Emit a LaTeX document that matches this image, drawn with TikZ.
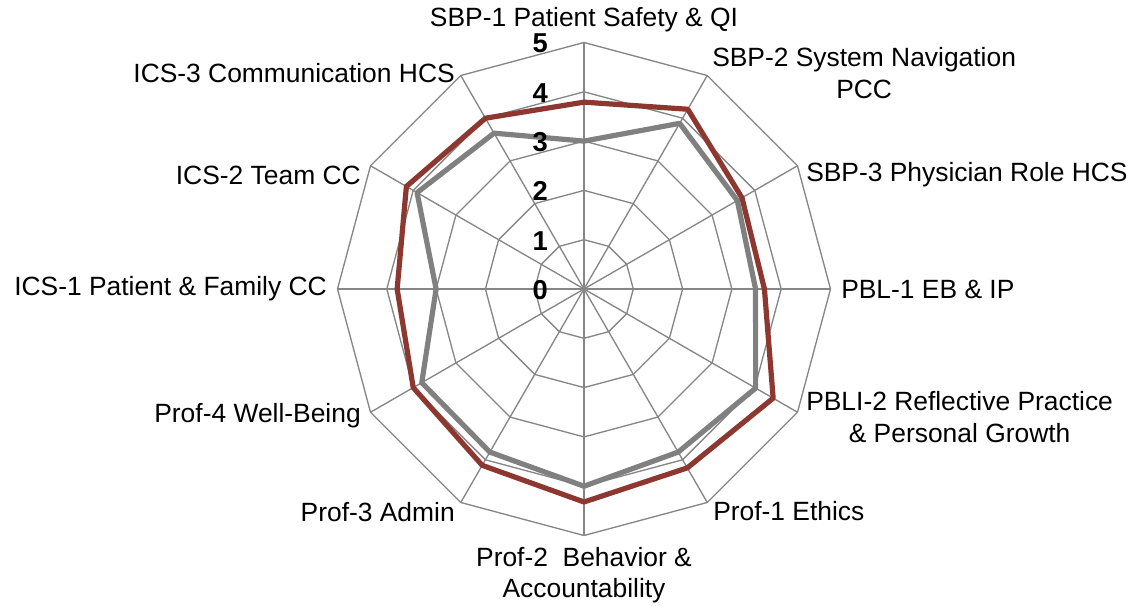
\documentclass[tikz,border=0pt]{standalone}
\usepackage{fontspec}
\setmainfont{Liberation Sans}

\begin{document}
\begin{tikzpicture}[x=0.75pt,y=0.75pt,yscale=-1,xscale=1,
  grid/.style={color={rgb, 255:red, 134; green, 134; blue, 134}, line width=1pt},
  redser/.style={color={rgb, 255:red, 140; green, 56; blue, 48}, line width=3.9pt, line join=round},
  grayser/.style={color={rgb, 255:red, 128; green, 128; blue, 128}, line width=3.9pt, line join=round},
  ticklab/.style={inner sep=0pt, font=\fontsize{20.5}{24}\selectfont\bfseries},
  catlab/.style={inner sep=0.75pt, align=center, font=\fontsize{19.8}{23.5}\selectfont}]
\useasboundingbox (0,0) rectangle (1134,606);
\def\unit{49.3}

\begin{scope}[shift={(584,289)}]
%Shape: Radar grid
\coordinate (o) at (0,0);
\foreach \k in {0,...,11}
  \coordinate (v\k) at ({5*\unit*sin(\k*30)},{-5*\unit*cos(\k*30)});
\foreach \l in {1,...,5}
  \draw[grid] (0,{-\l*\unit}) \foreach \k in {1,...,11}{ -- ({\l*\unit*sin(\k*30)},{-\l*\unit*cos(\k*30)}) } -- cycle;
\foreach \k in {0,...,11}
  \draw[grid] (o) -- (v\k);

%Shape: Series points
\foreach \v [count=\k from 0] in {3.0,3.88,3.59,3.48,4.02,3.82,4.0,3.82,3.80,3.0,3.91,3.65}
  \coordinate (g\k) at ({\v*\unit*sin(\k*30)},{-\v*\unit*cos(\k*30)});
\foreach \v [count=\k from 0] in {3.79,4.21,3.70,3.66,4.43,4.19,4.32,4.13,4.0,3.79,4.16,4.0}
  \coordinate (r\k) at ({\v*\unit*sin(\k*30)},{-\v*\unit*cos(\k*30)});

%Curve Lines: gray series
\draw[grayser] (g0) -- (g1) -- (g2) -- (g3) -- (g4) -- (g5) -- (g6) -- (g7) -- (g8) -- (g9) -- (g10) -- (g11) -- cycle;
%Curve Lines: red series
\draw[redser] (r0) -- (r1) -- (r2) -- (r3) -- (r4) -- (r5) -- (r6) -- (r7) -- (r8) -- (r9) -- (r10) -- (r11) -- cycle;

% Text Node: scale
\foreach \l in {0,...,5}
  \node[ticklab, anchor=east] (t\l) at (-36,{-\l*\unit+1}) {\l};
\end{scope}

% Text Node
\node[catlab, anchor=base] (sbp1) at (584,27) {SBP-1 Patient Safety \& QI};
% Text Node
\node[catlab, anchor=west] (sbp2) at (711,73) {SBP-2 System Navigation\\PCC};
% Text Node
\node[catlab, anchor=west] (sbp3) at (805,175) {SBP-3 Physician Role HCS};
% Text Node
\node[catlab, anchor=west] (pbl1) at (840,289) {PBL-1 EB \& IP};
% Text Node
\node[catlab, anchor=west] (pbli2) at (805,417) {PBLI-2 Reflective Practice\\\& Personal Growth};
% Text Node
\node[catlab, anchor=west] (prof1) at (712,511) {Prof-1 Ethics};
% Text Node
\node[catlab, anchor=north] (prof2) at (584,546) {Prof-2\ \ Behavior \&\\Accountability};
% Text Node
\node[catlab, anchor=east] (prof3) at (456,512) {Prof-3 Admin};
% Text Node
\node[catlab, anchor=east] (prof4) at (362,416) {Prof-4 Well-Being};
% Text Node
\node[catlab, anchor=east] (ics1) at (328,289) {ICS-1 Patient \& Family CC};
% Text Node
\node[catlab, anchor=east] (ics2) at (362,175) {ICS-2 Team CC};
% Text Node
\node[catlab, anchor=east] (ics3) at (456,73) {ICS-3 Communication HCS};

\end{tikzpicture}
\end{document}
